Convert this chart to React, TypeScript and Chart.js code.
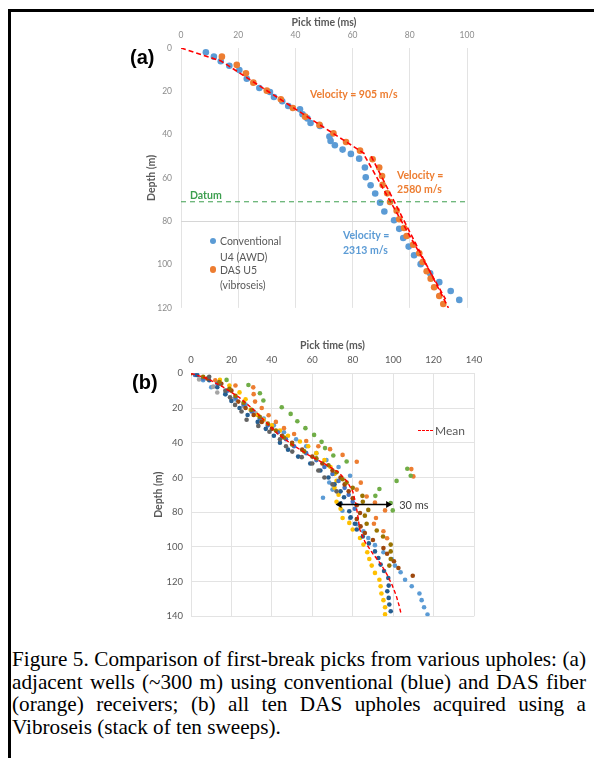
import React, { useEffect, useRef } from "react";
import { Chart, registerables } from "chart.js";
Chart.register(...registerables);

// ---------------- Panel (a) data : [pick time (ms), depth (m)]
const A_CONVENTIONAL: number[][] = [
  [8.7, 2.0], [11.5, 4.0], [13.9, 6.1], [16.9, 8.2], [20.4, 10.2], [23, 14.2], [27.4, 18.5],
  [31.1, 20.3], [32.5, 22.6], [35.4, 24.6], [37.5, 26.8], [41.6, 28.3], [42.5, 30.6], [44.2, 32.5],
  [45.3, 34.6], [48.6, 36], [51.9, 40.9], [52.3, 42.9], [53.8, 44.9], [56.5, 46.9], [59.4, 48.9],
  [62.3, 51.1], [64.3, 55.2], [64.6, 59.7], [66.3, 63.4], [67.9, 67.2], [69.6, 71.4], [71.1, 75.5],
  [74.5, 79.5], [76.3, 83.5], [77.7, 87.7], [79.6, 91.7], [81.5, 95.7], [83.8, 99.8], [87.1, 104],
  [90.3, 108.1], [94.3, 112.2], [97.3, 116.3],
];
const A_DAS: number[][] = [
  [14.3, 4.0], [19.5, 7.8], [22.7, 11.7], [25.3, 16.0], [30.0, 19.7], [34.9, 23.7], [39.1, 27.7],
  [43.4, 31.7], [48.4, 35.5], [53.3, 39.4], [57.7, 43.4], [62.6, 47.4], [67.0, 51.4], [69.3, 55.2],
  [70.3, 59.1], [70.5, 63.2], [72.1, 67.1], [73.1, 71.1], [75.4, 75.1], [76.3, 79.1], [78.0, 83.1],
  [78.9, 86.8], [81.2, 90.8], [83.3, 94.8], [84.5, 98.8], [85.9, 103.1], [87.3, 106.5], [88.5, 110.5],
  [90.3, 114.5], [91.7, 118.2],
];
const A_FIT_905: number[][] = [[0, 0], [14, 6], [65, 49.5]];
const A_FIT_2580: number[][] = [[66.5, 50], [93.5, 120]];
const A_FIT_2313: number[][] = [[64.3, 50], [92.5, 116]];
const A_DATUM_DEPTH = 71;
const A_X_TICKS = { min: 0, max: 100, step: 20 };
const A_Y_TICKS = { min: 0, max: 120, step: 20 };

// ---------------- Panel (b) data : ten DAS upholes [pick time (ms), depth (m)]
const B_U1: number[][] = [
  [3, 1], [6, 4], [10, 8], [17, 12], [22, 15], [27, 18], [31, 22], [36, 26], [41, 30], [46, 34],
  [52, 38], [57, 42], [62, 46], [67, 50], [73, 54], [78.7, 59], [68.4, 62.9], [70, 67], [65.3, 71.7],
  [72.9, 75], [74.9, 79.2], [78.7, 83.4], [82, 87], [85.3, 91], [87.7, 94.9], [91, 99], [95.2, 103.1],
  [99.3, 107], [100.9, 110.8], [103.7, 114.6], [105.9, 118.9], [109.2, 122.7], [113, 126.9],
  [114.1, 130.7], [115.3, 134.8], [117, 139],
];
const B_U2: number[][] = [
  [12, 4], [22, 7], [30.8, 8.1], [31, 12], [31.7, 16.3], [35, 20], [38.4, 24.2], [42, 28], [46, 31.6],
  [51, 35], [57, 39], [63, 42], [68.8, 43.7], [75, 47], [82, 51], [109, 55.2], [110, 59.4], [84, 63],
  [82, 67], [86.9, 71], [91, 74.4], [96, 79], [91.5, 83.4], [90.5, 86.7], [95.2, 91], [97, 95],
];
const B_U3: number[][] = [[4, 3.5], [11, 7.7], [13, 11.1], [20, 15], [26, 19], [32, 23], [36, 27]];
const B_U4: number[][] = [
  [14.3, 3.8], [19, 7], [24, 11], [27, 15], [29.5, 21.1], [33, 24], [35.8, 26.8], [40, 30], [44, 33],
  [48, 36], [53.9, 39.3], [58, 42], [62, 46], [66, 50], [69, 54], [71, 58], [72, 62], [71, 66], [73, 70],
  [72, 74], [74, 78], [75, 83.4], [78.3, 86.2], [80, 90], [83.6, 94.9], [85.3, 98.7], [87.2, 103.1],
  [88.2, 107], [89.4, 110.8], [91, 115], [93.2, 118.9], [93.8, 122.7], [94.2, 126.9], [95.2, 130.7],
  [96, 134.8], [96, 138.9],
];
const B_U5: number[][] = [
  [2, 1], [6, 3], [13, 6], [18, 10], [22, 14], [26, 18], [30, 22], [34, 26], [38, 30], [43, 34], [47, 38],
  [51, 42], [57, 46], [62, 50], [66, 54], [70, 58], [73, 62], [76, 66], [78, 70], [80, 74], [81, 78],
];
const B_U6: number[][] = [
  [17.6, 3.8], [28.4, 6.7], [34.1, 11.5], [35.8, 15.7], [44.9, 19.6], [49.3, 23.4], [52.6, 27.6],
  [56.6, 31.6], [60.9, 35.5], [64.6, 39.5], [66.3, 43.1], [70.4, 47.4], [77, 50.8], [107, 55],
  [108.7, 59], [101.7, 62], [93.2, 66.7], [91.2, 70.6], [98.8, 74.7], [99.8, 79],
];
const B_U7: number[][] = [
  [3, 1], [9, 4], [13, 8], [17, 12], [20, 16], [24, 20], [28, 24], [33, 28], [37, 32], [41, 36], [44, 40],
  [48, 44], [53, 48], [59, 52], [64, 56], [68, 60], [71, 64], [74, 68], [75.7, 71.4], [74, 75], [78.3, 79.5],
  [79, 83], [81.1, 86.7], [82, 90], [85, 94], [88, 98], [91, 102.6], [92.7, 106.4], [93.8, 110.2],
  [95.5, 113.9], [97.6, 117.9], [97.8, 122.3], [97.1, 125.6], [97.8, 129.4], [98.1, 133.2], [98.8, 137.1],
];
const B_U8: number[][] = [
  [0, 0], [8, 3], [15, 6], [20, 10], [23.4, 16.3], [27, 20], [31, 24], [35, 28], [40, 32], [45, 36],
  [50, 40], [55, 44], [60, 48], [65, 52], [70, 56], [74, 60], [76, 64], [78, 68], [80, 72], [82, 76],
  [83.6, 80.5], [82, 84], [83.9, 88.2], [86, 92], [90, 96], [95.2, 100.7], [97, 104], [100.4, 108.3],
  [102.6, 112.2], [109.7, 116.6],
];
const B_U9: number[][] = [
  [9, 2], [14, 6], [17, 10], [19.3, 13.8], [21.8, 18.2], [25, 22], [27.5, 26.8], [33.3, 30.3],
  [38.8, 33.7], [44, 38], [47, 42], [50.1, 45.1], [54.8, 48.3], [60, 52], [63, 56], [66, 60], [70, 64], [72, 68],
];
const B_U10: number[][] = [
  [6, 2], [14, 5], [19, 9], [22, 13], [26, 17], [30, 21], [34, 25], [38, 29], [42, 33], [46, 37], [50, 41],
  [56, 45], [62, 49], [68, 53], [72, 57], [75, 61], [77, 62.9], [80, 66], [84.8, 70.6], [85, 74],
  [87.7, 78.7], [86, 82], [86.9, 86.7], [91.9, 90.6], [95, 94], [98.8, 98.7], [98.8, 102.6], [98.8, 107],
  [98.1, 110.8],
];
const B_MEAN: number[][] = [
  [0, 0], [8, 3], [16, 8], [24, 14], [31, 21], [37, 28], [43, 35], [50, 41], [58, 47], [66, 52], [73, 57],
  [77, 62], [80, 68], [81.5, 75], [82.5, 82], [83.5, 90], [86, 97], [90, 104], [94, 110], [97, 116],
  [99.5, 122], [101.5, 128], [103, 134], [104, 139],
];
const B_SERIES = [B_U1, B_U2, B_U3, B_U4, B_U5, B_U6, B_U7, B_U8, B_U9, B_U10];
const B_COLORS = ["#5B9BD5", "#ED7D31", "#A5A5A5", "#FFC000", "#4472C4", "#70AD47", "#255E91", "#9E480E", "#636363", "#997300"];
const B_ARROW_T = [71.5, 99.5];
const B_ARROW_DEPTH = 75.6;
const B_X_TICKS = { min: 0, max: 140, step: 20 };
const B_Y_TICKS = { min: 0, max: 140, step: 20 };

const FONT = "Lato";
const pts = (arr: number[][]) => arr.map(([x, y]) => ({ x, y }));

const arrowPlugin = {
  id: "arrow30",
  afterDatasetsDraw(chart: any) {
    const { ctx, scales } = chart;
    const x1 = scales.x.getPixelForValue(B_ARROW_T[0]);
    const x2 = scales.x.getPixelForValue(B_ARROW_T[1]);
    const yy = scales.y.getPixelForValue(B_ARROW_DEPTH);
    ctx.save();
    ctx.strokeStyle = "#000";
    ctx.fillStyle = "#000";
    ctx.lineWidth = 1.5;
    ctx.beginPath();
    ctx.moveTo(x1 + 4, yy);
    ctx.lineTo(x2 - 4, yy);
    ctx.stroke();
    ctx.beginPath();
    ctx.moveTo(x1, yy);
    ctx.lineTo(x1 + 6, yy - 3.5);
    ctx.lineTo(x1 + 6, yy + 3.5);
    ctx.closePath();
    ctx.fill();
    ctx.beginPath();
    ctx.moveTo(x2, yy);
    ctx.lineTo(x2 - 6, yy - 3.5);
    ctx.lineTo(x2 - 6, yy + 3.5);
    ctx.closePath();
    ctx.fill();
    ctx.font = `11px ${FONT}`;
    ctx.fillStyle = "#404040";
    ctx.textBaseline = "middle";
    ctx.fillText("30 ms", x2 + 7, yy + 0.5);
    ctx.restore();
  },
};

function makeScales(o: any) {
  return {
    x: {
      type: "linear",
      position: "top",
      min: o.xt.min,
      max: o.xt.max,
      ticks: { stepSize: o.xt.step, padding: o.xTickPad, font: { family: FONT, size: o.tickSize }, color: o.tickColor },
      grid: { color: o.vGrid, drawTicks: false, lineWidth: 1 },
      border: { display: false },
      title: {
        display: true,
        text: "Pick time (ms)",
        color: "#595959",
        font: { family: FONT, size: 10.5, weight: "bold" },
        padding: { top: o.xTitlePad, bottom: 0 },
      },
      afterFit: (s: any) => {
        s.height = o.top;
      },
    },
    y: {
      type: "linear",
      reverse: true,
      min: o.yt.min,
      max: o.yt.max,
      ticks: { stepSize: o.yt.step, padding: o.yTickPad, font: { family: FONT, size: o.tickSize }, color: o.tickColor },
      grid: { color: o.hGrid, drawTicks: false, lineWidth: 1 },
      border: { display: false },
      title: {
        display: true,
        text: "Depth (m)",
        color: "#595959",
        font: { family: FONT, size: 10.5, weight: "bold" },
        padding: { top: o.yTitlePad, bottom: 0 },
      },
      afterFit: (s: any) => {
        s.width = o.left;
      },
    },
  };
}

function ChartA() {
  const ref = useRef<HTMLCanvasElement>(null);
  useEffect(() => {
    const lineDs = (data: number[][], color: string, dash: number[], width: number, order: number) => ({
      type: "line",
      data: pts(data),
      showLine: true,
      borderColor: color,
      borderWidth: width,
      borderDash: dash,
      pointRadius: 0,
      fill: false,
      order,
    });
    const chart = new Chart(ref.current!, {
      type: "scatter",
      data: {
        datasets: [
          { data: pts(A_CONVENTIONAL), backgroundColor: "#5B9BD5", pointRadius: 3.3, borderWidth: 0, order: 3 },
          { data: pts(A_DAS), backgroundColor: "#ED7D31", pointRadius: 3.3, borderWidth: 0, order: 2 },
          lineDs(A_FIT_905, "#FF0000", [5, 3], 1.6, 0),
          lineDs(A_FIT_2580, "#FF0000", [5, 3], 1.6, 0),
          lineDs(A_FIT_2313, "#FF0000", [5, 3], 1.6, 0),
          lineDs([[A_X_TICKS.min, A_DATUM_DEPTH], [A_X_TICKS.max, A_DATUM_DEPTH]], "#3C9E4E", [5, 4], 1, 1),
        ] as any,
      },
      options: {
        animation: false,
        responsive: false,
        events: [],
        layout: { padding: { left: 0, top: 0, right: 33, bottom: 14 } },
        plugins: { legend: { display: false }, tooltip: { enabled: false } },
        scales: makeScales({
          xt: A_X_TICKS,
          yt: A_Y_TICKS,
          tickSize: 8.5,
          tickColor: "#8C8C8C",
          xTickPad: 8,
          yTickPad: 9,
          xTitlePad: 4.5,
          yTitlePad: 25,
          top: 36,
          left: 61,
          vGrid: "#E3E3E3",
          hGrid: (c: any) => (c.tick && c.tick.value === 80 ? "#D6D6D6" : "rgba(0,0,0,0)"),
        }) as any,
      },
    });
    return () => chart.destroy();
  }, []);
  return <canvas ref={ref} width={380} height={310} style={{ position: "absolute", left: 120, top: 12, width: 380, height: 310 }} />;
}

function ChartB() {
  const ref = useRef<HTMLCanvasElement>(null);
  useEffect(() => {
    const datasets: any[] = B_SERIES.map((s, i) => ({
      data: pts(s),
      backgroundColor: B_COLORS[i],
      pointRadius: 2.3,
      borderWidth: 0,
      order: 20 - i,
    }));
    datasets.push({
      type: "line",
      data: pts(B_MEAN),
      showLine: true,
      borderColor: "#FF0000",
      borderWidth: 1.4,
      borderDash: [4, 2.5],
      pointRadius: 0,
      fill: false,
      order: 0,
    });
    const chart = new Chart(ref.current!, {
      type: "scatter",
      data: { datasets },
      options: {
        animation: false,
        responsive: false,
        events: [],
        layout: { padding: { left: 0, top: 0, right: 26, bottom: 13.3 } },
        plugins: { legend: { display: false }, tooltip: { enabled: false } },
        scales: makeScales({
          xt: B_X_TICKS,
          yt: B_Y_TICKS,
          tickSize: 9.5,
          tickColor: "#595959",
          xTickPad: 8,
          yTickPad: 8,
          xTitlePad: 9.4,
          yTitlePad: 32,
          top: 43.3,
          left: 71,
          vGrid: "#E3E3E3",
          hGrid: "#E3E3E3",
        }) as any,
      },
      plugins: [arrowPlugin],
    });
    return () => chart.destroy();
  }, []);
  return <canvas ref={ref} width={380} height={300} style={{ position: "absolute", left: 120, top: 330, width: 380, height: 300 }} />;
}

function T(p: { x: number; y: number; size?: number; color?: string; bold?: boolean; family?: string; children: any }) {
  return (
    <div
      style={{
        position: "absolute",
        left: p.x,
        top: p.y - 8,
        height: 16,
        lineHeight: "16px",
        whiteSpace: "nowrap",
        fontFamily: p.family || FONT,
        fontSize: p.size || 10.5,
        fontWeight: p.bold ? 700 : 400,
        color: p.color || "#595959",
      }}
    >
      {p.children}
    </div>
  );
}

function Dot(p: { x: number; y: number; color: string }) {
  return (
    <div
      style={{
        position: "absolute",
        left: p.x - 3.3,
        top: p.y - 3.3,
        width: 6.6,
        height: 6.6,
        borderRadius: "50%",
        background: p.color,
      }}
    />
  );
}

const CAPTION_LINES = [
  "Figure 5. Comparison of first-break picks from various upholes: (a)",
  "adjacent wells (~300 m) using conventional (blue) and DAS fiber",
  "(orange) receivers; (b) all ten DAS upholes acquired using a",
  "Vibroseis (stack of ten sweeps).",
];

export default function App() {
  return (
    <div style={{ position: "absolute", left: 0, top: 0, width: 594, height: 758, background: "#fff", overflow: "hidden" }}>
      <div style={{ position: "absolute", left: 8, top: 9, width: 600, height: 800, borderTop: "3px solid #000", borderLeft: "3px solid #000" }} />
      <ChartA />
      <ChartB />
      {/* panel (a) annotations */}
      <T x={130} y={57} size={20} bold family="Liberation Sans" color="#000">(a)</T>
      <T x={310} y={94} bold color="#ED7D31">Velocity = 905 m/s</T>
      <T x={397} y={174.5} bold color="#ED7D31">Velocity =</T>
      <T x={397} y={189} bold color="#ED7D31">2580 m/s</T>
      <T x={343} y={235} bold color="#5B9BD5">Velocity =</T>
      <T x={343} y={250} bold color="#5B9BD5">2313 m/s</T>
      <T x={190} y={195} bold color="#3C9E4E">Datum</T>
      <Dot x={213} y={241} color="#5B9BD5" />
      <T x={220} y={241}>Conventional</T>
      <T x={220} y={256.5}>U4 (AWD)</T>
      <Dot x={213} y={269.5} color="#ED7D31" />
      <T x={220} y={269.5}>DAS U5</T>
      <T x={220} y={285}>(vibroseis)</T>
      {/* panel (b) annotations */}
      <T x={132} y={382} size={20} bold family="Liberation Sans" color="#000">(b)</T>
      <div style={{ position: "absolute", left: 418, top: 429.5, width: 15, borderTop: "1.5px dashed #FF0000" }} />
      <T x={435} y={430.5} size={12}>Mean</T>
      {/* caption */}
      <div style={{ position: "absolute", left: 12, top: 648, width: 574, fontFamily: "Liberation Serif", fontSize: 21.2, color: "#000" }}>
        {CAPTION_LINES.map((l, i) => (
          <div
            key={i}
            style={{
              height: 22.7,
              lineHeight: "22.7px",
              whiteSpace: "nowrap",
              textAlign: "justify",
              textAlignLast: i < CAPTION_LINES.length - 1 ? "justify" : "left",
            } as any}
          >
            {l}
          </div>
        ))}
      </div>
    </div>
  );
}
